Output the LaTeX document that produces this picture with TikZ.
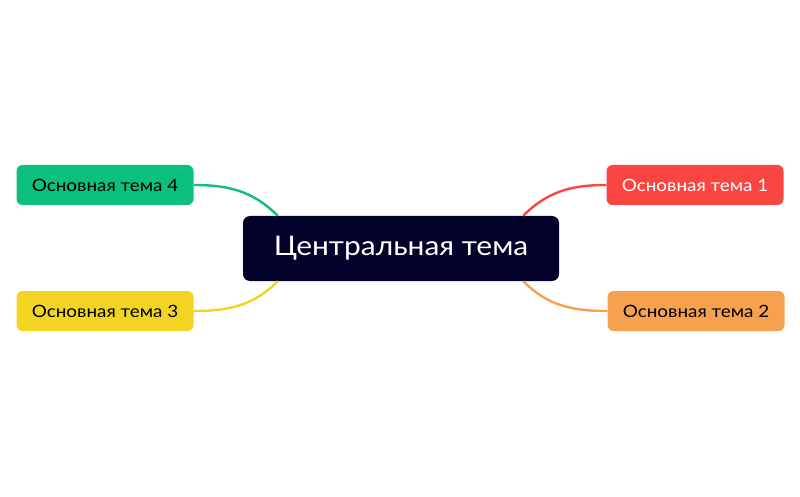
\documentclass[tikz,border=0pt]{standalone}
\usepackage{fontspec}
\setmainfont{Lato}[FakeStretch=1.11]
\usepackage{tikz}
\usetikzlibrary{positioning}

\definecolor{navy}{HTML}{02022A}
\definecolor{tgreen}{HTML}{0BBF7C}
\definecolor{tyellow}{HTML}{F2D423}
\definecolor{tred}{HTML}{FA4640}
\definecolor{torange}{HTML}{F6A14F}

\begin{document}
\begin{tikzpicture}[x=1pt,y=1pt,
    center/.style={rectangle,rounded corners=7pt,fill=navy,text=white,
        minimum width=316pt,minimum height=65pt,font=\fontsize{27}{30}\selectfont},
    topic/.style={rectangle,rounded corners=6pt,minimum width=177pt,
        minimum height=40pt,font=\fontsize{17}{20}\selectfont},
    branch/.style={line width=2.4pt}]
    \useasboundingbox (0,0) rectangle (800,496);
    \node[center] (c) at (401,247.5) {Центральная тема};
    \node[topic,fill=tred,text=white] (t1) at (695,311) {Основная тема 1};
    \node[topic,fill=torange] (t2) at (696,185) {Основная тема 2};
    \node[topic,fill=tyellow] (t3) at (105,185) {Основная тема 3};
    \node[topic,fill=tgreen] (t4) at (105,311) {Основная тема 4};
    % branches
    \draw[branch,tred] ([xshift=-36pt]c.north east) to[out=45,in=180] (t1.west);
    \draw[branch,torange] ([xshift=-36pt]c.south east) to[out=-45,in=180] (t2.west);
    \draw[branch,tyellow] ([xshift=35pt]c.south west) to[out=-135,in=0] (t3.east);
    \draw[branch,tgreen] ([xshift=35pt]c.north west) to[out=135,in=0] (t4.east);
\end{tikzpicture}
\end{document}
